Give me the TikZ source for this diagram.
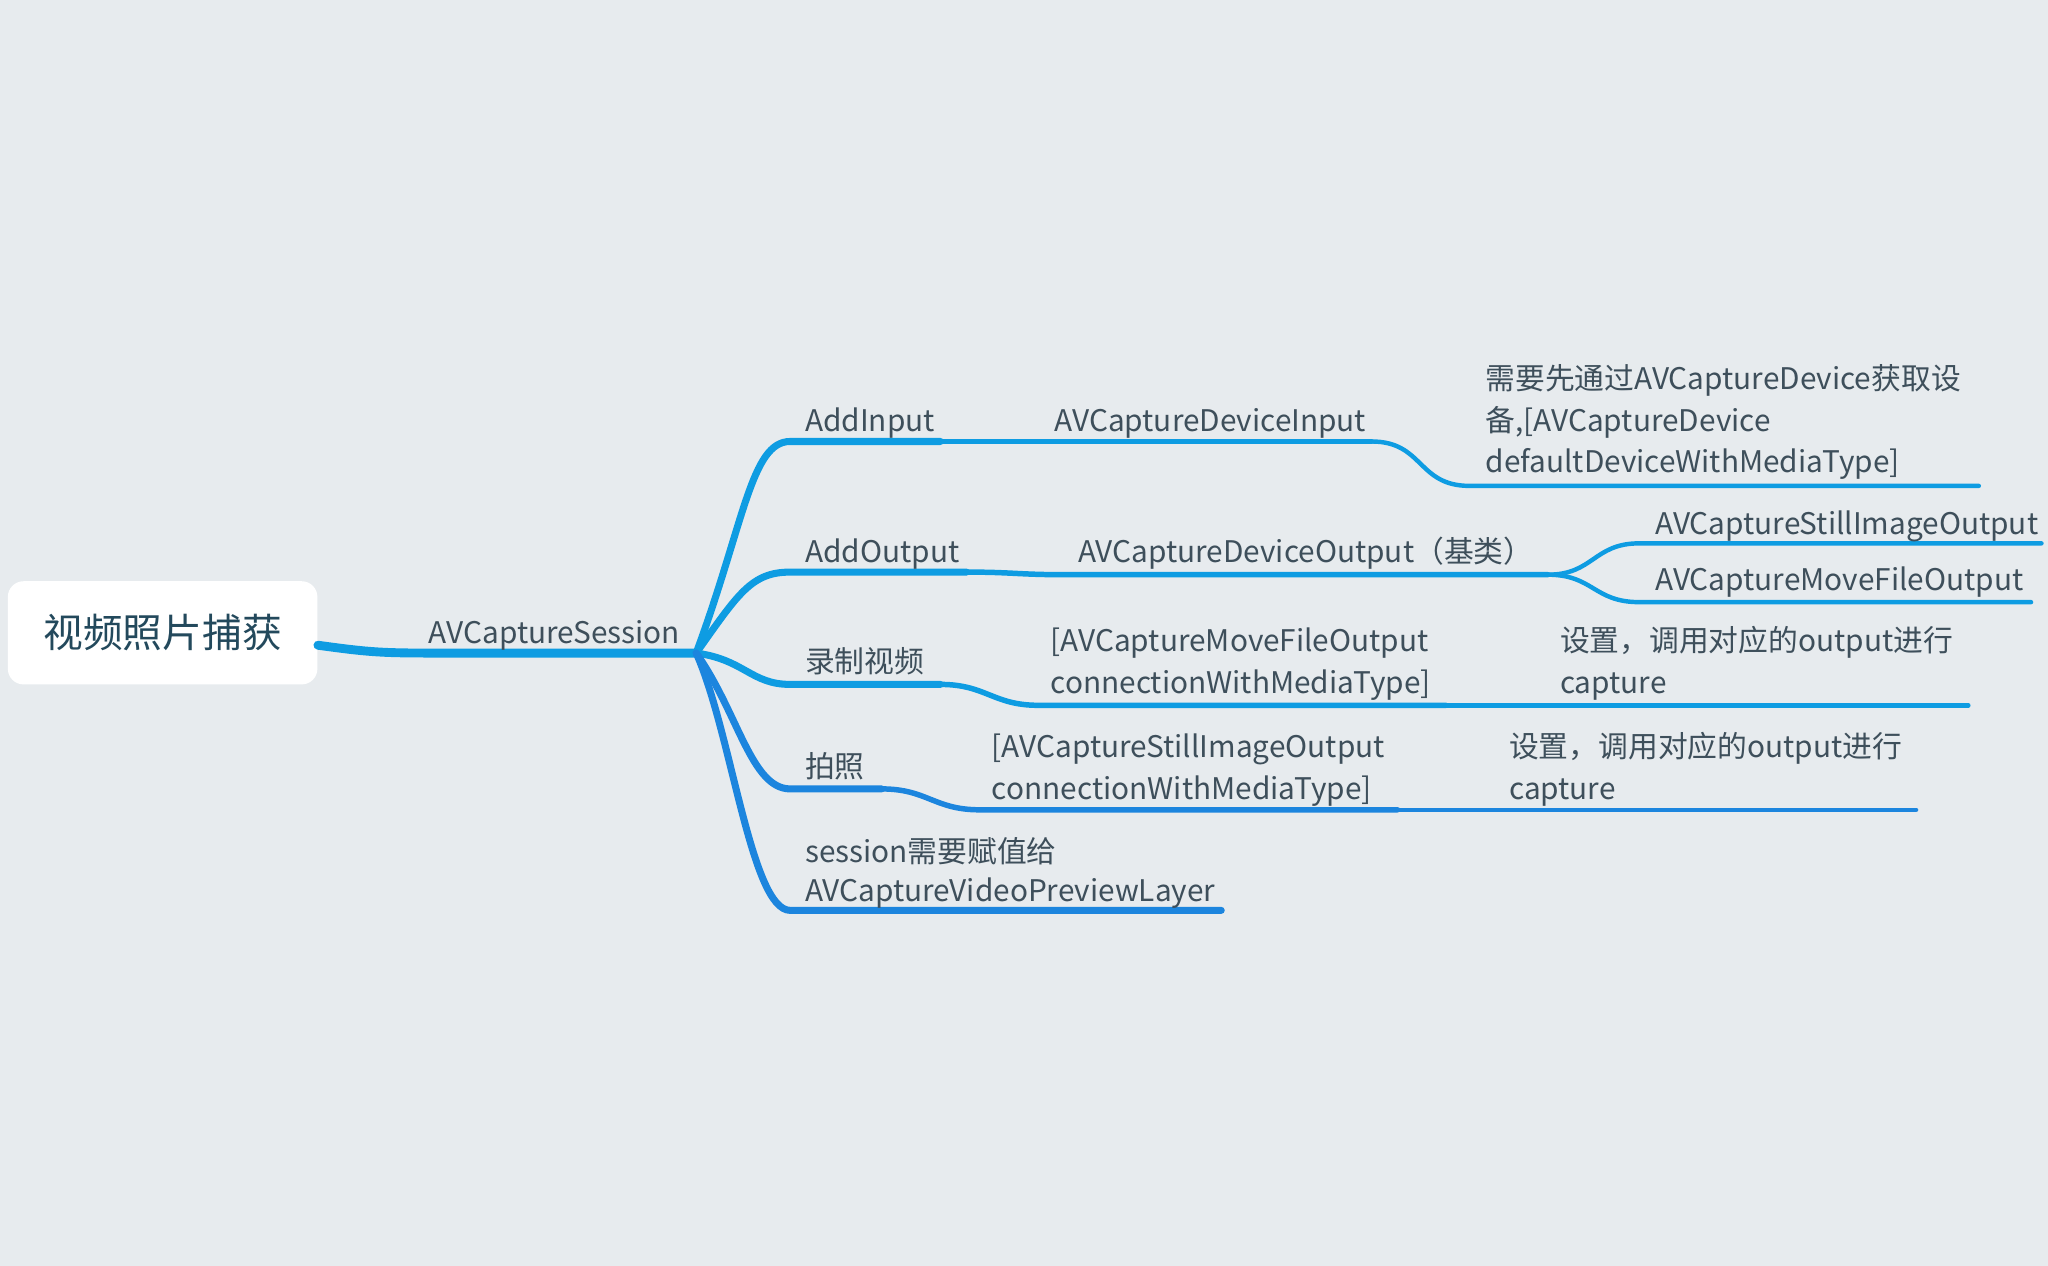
\documentclass[tikz,border=0pt]{standalone}
\usepackage{fontspec}
\setmainfont{Noto Sans CJK SC}
\definecolor{bgcol}{HTML}{E7EBEE}
\definecolor{brightblue}{HTML}{0E9CE2}
\definecolor{deepblue}{HTML}{1C85DE}
\definecolor{txtcol}{HTML}{3E4F5B}
\definecolor{roottxt}{HTML}{23495C}
\begin{document}
\begin{tikzpicture}[x=0.5pt,y=-0.5pt,
  label/.style={inner sep=0pt,anchor=base west,text=txtcol,font=\fontsize{11.4}{16}\selectfont,align=left},
  label2/.style={label,font=\fontsize{11.4}{15}\selectfont},
  rootbox/.style={fill=white,rounded corners=6pt,minimum width=118.5pt,minimum height=39.5pt,inner sep=0pt,text=roottxt,font=\fontsize{15.2}{18}\selectfont},
  lv0/.style={draw=brightblue,line width=3.4pt,line cap=round},
  lv1/.style={draw=brightblue,line width=2.7pt,line cap=round},
  lv1d/.style={draw=deepblue,line width=2.7pt,line cap=round},
  lv2/.style={draw=brightblue,line width=2.1pt,line cap=round},
  lv2d/.style={draw=deepblue,line width=2.1pt,line cap=round},
  lv3/.style={draw=brightblue,line width=1.7pt,line cap=round},
  lv3d/.style={draw=deepblue,line width=1.7pt,line cap=round}]
\fill[bgcol] (0,0) rectangle (1568,969);
\useasboundingbox (0,0) rectangle (1568,969);

% anchor points of the branches
\coordinate (hub) at (533,500);
\coordinate (inA) at (605,338);  \coordinate (inB) at (720,338);
\coordinate (inC) at (1050,338); \coordinate (inD) at (1125,372); \coordinate (inE) at (1515,372);
\coordinate (outA) at (605,438); \coordinate (outB) at (740,438);
\coordinate (outC) at (815,440); \coordinate (outD) at (1185,440);
\coordinate (stA) at (1255,416); \coordinate (stB) at (1563,416);
\coordinate (mvA) at (1255,461); \coordinate (mvB) at (1555,461);
\coordinate (recA) at (605,524); \coordinate (recB) at (720,524);
\coordinate (recC) at (795,540); \coordinate (recD) at (1107,540); \coordinate (recE) at (1507,540);
\coordinate (phA) at (605,604);  \coordinate (phB) at (675,604);
\coordinate (phC) at (750,620);  \coordinate (phD) at (1070,620); \coordinate (phE) at (1467,620);
\coordinate (seA) at (605,697);  \coordinate (seB) at (935,697);

% root
\node[rootbox] (root) at (124.5,484.5) {视频照片捕获};

% connectors
\path[lv0] (root.east |- 0,494) .. controls (280,499) and (290,500) .. (330,500) -- (hub);
\path[lv1] (hub) .. controls (570,400) and (575,338) .. (inA) -- (inB);
\path[lv2] (inB) -- (inC);
\path[lv3] (inC) .. controls (1090,338) and (1085,372) .. (inD) -- (inE);
\path[lv1] (hub) .. controls (565,455) and (575,438) .. (outA) -- (outB);
\path[lv2] (outB) .. controls (775,438) and (780,440) .. (outC) -- (outD);
\path[lv3] (outD) .. controls (1220,440) and (1220,416) .. (stA) -- (stB);
\path[lv3] (outD) .. controls (1220,440) and (1220,461) .. (mvA) -- (mvB);
\path[lv1] (hub) .. controls (570,505) and (575,524) .. (recA) -- (recB);
\path[lv2] (recB) .. controls (755,524) and (760,540) .. (recC) -- (recD);
\path[lv3] (recD) -- (recE);
\path[lv1d] (hub) .. controls (565,545) and (575,604) .. (phA) -- (phB);
\path[lv2d] (phB) .. controls (710,604) and (715,620) .. (phC) -- (phD);
\path[lv3d] (phD) -- (phE);
\path[lv1d] (hub) .. controls (560,560) and (575,697) .. (seA) -- (seB);

% labels (multi-line ones are placed by the baseline of their last line)
\node[label] (sess) at (328,493) {AVCaptureSession};
\node[label] (addin) at (616,330) {AddInput};
\node[label] (devin) at (807,330) {AVCaptureDeviceInput};
\node[label] (devnote) at (1137,362) {需要先通过AVCaptureDevice获取设\\备,[AVCaptureDevice\\defaultDeviceWithMediaType]};
\node[label] (addout) at (616,431) {AddOutput};
\node[label] (devout) at (825,431) {AVCaptureDeviceOutput（基类）};
\node[label] (still) at (1267,409) {AVCaptureStillImageOutput};
\node[label] (move) at (1267,452) {AVCaptureMoveFileOutput};
\node[label] (rec) at (616,515) {录制视频};
\node[label] (recconn) at (804,531) {[AVCaptureMoveFileOutput\\connectionWithMediaType]};
\node[label] (recnote) at (1194,531) {设置，调用对应的output进行\\capture};
\node[label] (photo) at (616,595) {拍照};
\node[label] (phconn) at (759,612) {[AVCaptureStillImageOutput\\connectionWithMediaType]};
\node[label] (phnote) at (1155,612) {设置，调用对应的output进行\\capture};
\node[label2] (layer) at (616,690) {session需要赋值给\\AVCaptureVideoPreviewLayer};
\end{tikzpicture}
\end{document}
